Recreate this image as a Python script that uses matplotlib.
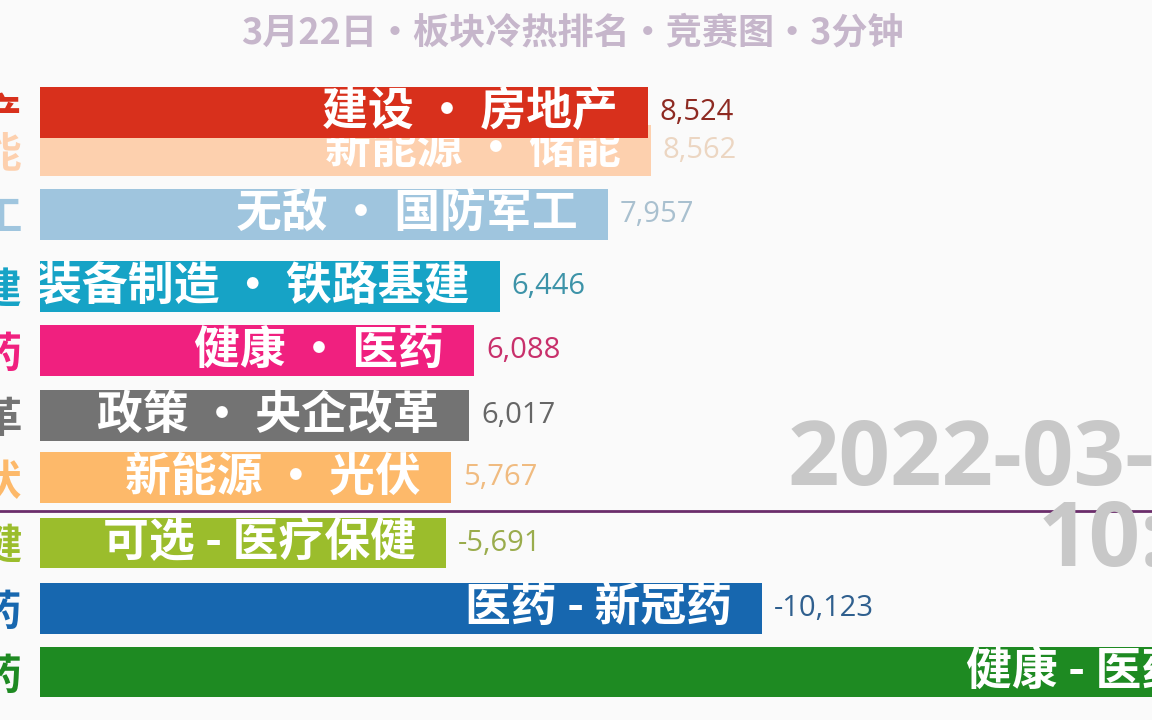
import matplotlib

matplotlib.use("Agg")
import matplotlib.pyplot as plt

plt.rcParams["font.family"] = ["Noto Sans CJK SC", "DejaVu Sans"]

# one frame of the bar race, top to bottom
labels = ["建设 • 房地产", "新能源 • 储能", "无敌 • 国防军工", "装备制造 • 铁路基建",
          "健康 • 医药", "政策 • 央企改革", "新能源 • 光伏",
          "可选 - 医疗保健", "医药 - 新冠药", "健康 - 医药"]
values = [8524, 8562, 7957, 6446, 6088, 6017, 5767, -5691, -10123, -16500]
# rank slot of each bar in this frame (bars in motion sit between slots)
rank = [8.68, 8.09, 7.10, 5.98, 4.98, 3.98, 3.01, 2.0, 0.99, 0.0]
title = "3月22日•板块冷热排名•竞赛图•3分钟"
date_line = "2022-03-22"
time_line = "10:30"

bar_colors = ["#d8301c", "#fdd0ae", "#9fc5de", "#16a3c6", "#f0207f",
              "#737373", "#fdb96a", "#9bbd2c", "#1767af", "#1e8a22"]
val_colors = ["#8e2a22", "#ecd6c2", "#a9c0cf", "#3d93a8", "#c8306b",
              "#666666", "#f0bb80", "#9aac4c", "#2f5f8e", "#2e7d30"]

fig = plt.figure(figsize=(11.52, 7.2), dpi=100, facecolor="#fafafa")
ax = fig.add_axes([40 / 1152, 0, 1 - 40 / 1152, 1])
ax.set_facecolor("#fafafa")

xmax = 15590
ax.set_xlim(0, xmax)
ax.set_ylim(-0.744, 10.419)
off = xmax * 30 / 1112  # label inset, ~30 px
gap = xmax * 12 / 1112

# draw from the bottom of the stack upward so the top bar covers the fading one
order = [1, 0, 2, 3, 4, 5, 6, 7, 8, 9]
for z, i in enumerate(order):
    w = abs(values[i])
    ax.barh(rank[i], w, height=0.79, color=bar_colors[i], zorder=2 + 2 * z)
    ax.text(w - off, rank[i], labels[i], ha="right", va="center",
            color="white", fontsize=33, fontweight="bold",
            clip_on=True, zorder=3 + 2 * z)
    ax.text(w + gap, rank[i], f"{values[i]:,}", ha="left", va="center",
            color=val_colors[i], fontsize=21, family="Open Sans",
            clip_on=False, zorder=3 + 2 * z)

ax.set_yticks(rank)
ax.set_yticklabels(labels, fontsize=30, fontweight="bold")
for t, c in zip(ax.get_yticklabels(), bar_colors):
    t.set_color(c)
ax.tick_params(axis="y", length=0, pad=13)
ax.set_xticks([])
for s in ax.spines.values():
    s.set_visible(False)

# line between gainers and losers
ax.axhline(2.5, xmin=-0.04, xmax=1, color="#6b2d6b", lw=2, clip_on=False, zorder=30)

fig.text(572 / 1152, 1 - 33 / 720, title, ha="center", va="center",
         fontsize=26, fontweight="bold", color="#c6b6cb")
fig.text(788 / 1152, 1 - 485 / 720, date_line, ha="left", va="baseline",
         fontsize=65, fontweight="bold", family="Open Sans", color="#c8c8c8", zorder=1)
fig.text(1038 / 1152, 1 - 566 / 720, time_line, ha="left", va="baseline",
         fontsize=65, fontweight="bold", family="Open Sans", color="#c8c8c8", zorder=1)

fig.savefig("out.png", dpi=100, facecolor=fig.get_facecolor())
